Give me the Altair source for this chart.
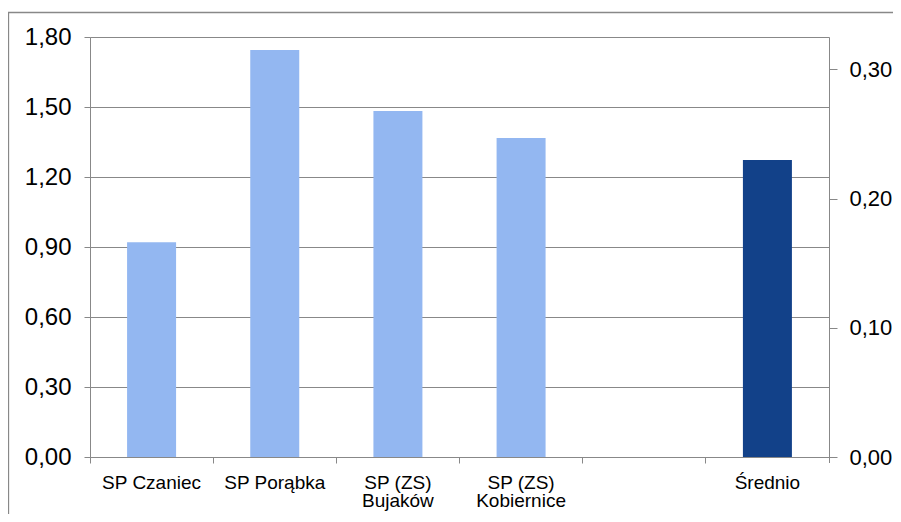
import altair as alt
import pandas as pd

categories = ["SP Czaniec", "SP Porąbka", "SP (ZS) Bujaków", "SP (ZS) Kobiernice", " ", "Średnio"]
bar_categories = ["SP Czaniec", "SP Porąbka", "SP (ZS) Bujaków", "SP (ZS) Kobiernice", "Średnio"]
bar_values = [0.92, 1.744, 1.483, 1.367, 1.273]
bar_kind = ["szkoła", "szkoła", "szkoła", "szkoła", "średnio"]
left_ticks = [0.0, 0.3, 0.6, 0.9, 1.2, 1.5, 1.8]
right_ticks = [0.0, 0.1, 0.2, 0.3]

LIGHT = "#93B7F1"
DARK = "#124189"
GRAY = "#888888"
FONT = "Liberation Sans"

df = pd.DataFrame({"kat": bar_categories, "wartosc": bar_values, "rodzaj": bar_kind})

W, H = 739, 420
fmt = "replace(format(datum.value, '.2f'), '.', ',')"

xscale = alt.Scale(domain=categories, paddingInner=0, paddingOuter=0)
xaxis = alt.Axis(
    title=None, bandPosition=0, labelAngle=0,
    labelFont=FONT, labelFontSize=19, labelColor="black", labelLineHeight=18.5,
    labelPadding=10, tickSize=6, tickColor=GRAY, domainColor=GRAY, grid=False,
    labelExpr="indexof(datum.label, ') ') > 0 ? split(replace(datum.label, ') ', ')|'), '|') : datum.label",
)

bars = alt.Chart(df).mark_bar(size=49).encode(
    x=alt.X("kat:N", scale=xscale, axis=xaxis, sort=categories),
    y=alt.Y("wartosc:Q", scale=alt.Scale(domain=[0, 1.8], nice=False),
            axis=alt.Axis(title=None, values=left_ticks, labelExpr=fmt, labelFont=FONT,
                          labelFontSize=24, labelColor="black", labelPadding=13,
                          tickSize=6, tickColor=GRAY, domainColor=GRAY,
                          gridColor=GRAY, grid=True, orient="left")),
    color=alt.Color("rodzaj:N", scale=alt.Scale(domain=["szkoła", "średnio"], range=[LIGHT, DARK]), legend=None),
)

right = alt.Chart(df).mark_point(opacity=0).encode(
    x=alt.X("kat:N", scale=xscale, sort=categories, axis=xaxis),
    y=alt.Y(datum=0, type="quantitative", scale=alt.Scale(domain=[0, 0.325], nice=False),
            axis=alt.Axis(title=None, values=right_ticks, labelExpr=fmt, orient="right",
                          labelFont=FONT, labelFontSize=22, labelColor="black",
                          labelPadding=12, tickSize=8, tickColor=GRAY, domainColor=GRAY,
                          grid=False)),
)

one = alt.Data(values=[{"a": 1}])
end_tick = alt.Chart(one).mark_rule(color=GRAY, strokeWidth=1).encode(
    x=alt.value(W + 0.5), y=alt.value(H), y2=alt.value(H + 6))
frame_top = alt.Chart(one).mark_rule(color=GRAY, strokeWidth=1.3).encode(
    x=alt.value(-82), x2=alt.value(803), y=alt.value(-24.5))
frame_left = alt.Chart(one).mark_rule(color=GRAY, strokeWidth=1.3).encode(
    x=alt.value(-81.5), y=alt.value(-25), y2=alt.value(480))

chart = alt.layer(bars, right, end_tick, frame_top, frame_left).resolve_scale(
    y="independent"
).resolve_axis(y="independent").properties(
    width=W, height=H,
    autosize=alt.AutoSizeParams(type="none"),
    padding={"left": 82, "top": 29, "right": 64, "bottom": 57},
).configure_view(strokeWidth=0).configure(background="white")

chart.save("out.html", embed_options={"renderer": "svg", "actions": False})
